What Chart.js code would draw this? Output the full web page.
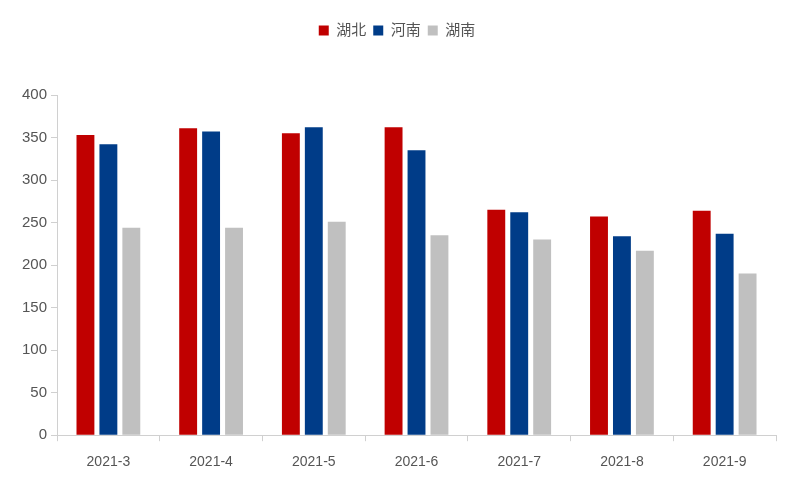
<!DOCTYPE html>
<html>
<head>
<meta charset="utf-8">
<script src="https://cdn.jsdelivr.net/npm/chart.js@4/dist/chart.umd.min.js"></script>
<style>
  body { margin: 0; background: #fff; }
  #wrap { width: 800px; height: 500px; }
</style>
</head>
<body>
<div id="wrap"><canvas id="barCanvas"></canvas></div>
<script>
var months = ["2021-3", "2021-4", "2021-5", "2021-6", "2021-7", "2021-8", "2021-9"];
var hubei = [353, 361, 355, 362, 265, 257, 264];
var henan = [342, 357, 362, 335, 262, 234, 237];
var hunan = [244, 244, 251, 235, 230, 217, 190];
var yTicks = [0, 50, 100, 150, 200, 250, 300, 350, 400];

Chart.defaults.font.family = "'Liberation Sans', 'Noto Sans CJK SC', sans-serif";
Chart.defaults.color = "#555";

// extra space between the legend and the plot
var legendGap = {
  id: "legendGap",
  beforeInit: function (chart) {
    var fit = chart.legend.fit;
    chart.legend.fit = function () {
      fit.call(this);
      this.height += 47;
    };
  }
};

var ctx = document.getElementById("barCanvas");
var myChart = new Chart(ctx, {
  type: "bar",
  data: {
    labels: months,
    datasets: [
      { label: "湖北", data: hubei, backgroundColor: "#c00000" },
      { label: "河南", data: henan, backgroundColor: "#003c88" },
      { label: "湖南", data: hunan, backgroundColor: "#c0c0c0" }
    ]
  },
  options: {
    responsive: true,
    maintainAspectRatio: false,
    animation: false,
    categoryPercentage: 0.67,
    barPercentage: 0.78,
    layout: { padding: { left: 18, right: 24, top: 16, bottom: 16 } },
    plugins: {
      legend: {
        position: "top",
        labels: { boxWidth: 10, boxHeight: 10, padding: 7, font: { size: 15 }, color: "#555" }
      },
      tooltip: { enabled: false }
    },
    scales: {
      x: {
        grid: { offset: true, drawOnChartArea: false, tickLength: 6, color: "#d0d0d0" },
        border: { color: "#d0d0d0" },
        ticks: { font: { size: 14 }, color: "#555", padding: 13 }
      },
      y: {
        min: 0,
        max: 400,
        afterBuildTicks: function (axis) {
          axis.ticks = yTicks.map(function (v) { return { value: v }; });
        },
        grid: { drawOnChartArea: false, tickLength: 6, color: "#d0d0d0" },
        border: { color: "#d0d0d0" },
        ticks: { font: { size: 15 }, color: "#555", padding: 4 }
      }
    }
  },
  plugins: [legendGap]
});
</script>
</body>
</html>
